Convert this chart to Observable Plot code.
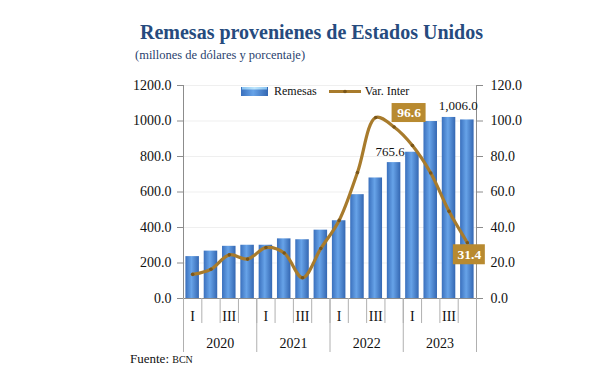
<!DOCTYPE html>
<html>
<head>
<meta charset="utf-8">
<script src="https://cdn.jsdelivr.net/npm/d3@7"></script>
<script src="https://cdn.jsdelivr.net/npm/@observablehq/plot@0.6"></script>
<style>
  html, body { margin: 0; padding: 0; background: #fff; }
  #wrap { position: relative; width: 612px; height: 385px; overflow: hidden; font-family: "Liberation Serif", "DejaVu Serif", serif; }
  #chart { position: absolute; left: 0; top: 0; }
  .abs { position: absolute; white-space: nowrap; line-height: 1; }
  #title { left: 140px; top: 22px; font-size: 20px; font-weight: bold; color: #264B7E; }
  #subtitle { left: 135px; top: 49px; font-size: 12.5px; color: #2A3F6E; }
  #source { left: 130px; top: 352px; font-size: 13px; color: #111; }
  #legend { left: 241px; top: 84px; font-size: 12px; color: #111; }
</style>
</head>
<body>
<svg width="0" height="0" style="position:absolute">
  <defs>
    <linearGradient id="barGrad" x1="0" y1="0" x2="1" y2="0">
      <stop offset="0%" stop-color="#3A70BD"/>
      <stop offset="45%" stop-color="#67A3E8"/>
      <stop offset="100%" stop-color="#3467B2"/>
    </linearGradient>
    <linearGradient id="capGrad" x1="0" y1="0" x2="1" y2="0">
      <stop offset="0%" stop-color="#86C2F0"/>
      <stop offset="50%" stop-color="#BFE6FB"/>
      <stop offset="100%" stop-color="#86C2F0"/>
    </linearGradient>
  </defs>
</svg>
<div id="wrap">
  <div id="chart"></div>
  <div id="title" class="abs">Remesas provenienes de Estados Unidos</div>
  <div id="subtitle" class="abs">(millones de dólares y porcentaje)</div>
  <div id="legend" class="abs"></div>
  <div id="source" class="abs">Fuente: <span style="font-size:10px">BCN</span></div>
</div>
<script>
// ---- Data ----
const years = ["2020", "2021", "2022", "2023"];
const quarters = ["I", "II", "III", "IV"];
const quarterLabels = ["I", "", "III", ""];
const remesas = [236, 267, 294, 300, 300, 336, 331, 385, 438, 585, 679, 765.6, 824, 997, 1020, 1006.0];
const varInter = [13.6, 16.5, 24.6, 22.2, 28.7, 25.6, 11.7, 28.2, 44.0, 71.0, 102.0, 96.6, 86.2, 70.7, 49.1, 31.4];
const leftTicks = [0, 200, 400, 600, 800, 1000, 1200];
const barLabels = [765.6, 1006.0];
const boxLabels = [96.6, 31.4];
const seriesNames = ["Remesas", "Var. Inter"];

const data = remesas.map((v, i) => ({
  i, remesas: v, varInter: varInter[i],
  year: years[Math.floor(i / 4)], q: quarters[i % 4]
}));

const gold = "#A87B2C";
const boxGold = "#B88A30";
const fmt1 = d3.format(",.1f");
const k = 10; // right axis (0-120) mapped to left scale (0-1200)

const plot = Plot.plot({
  width: 612,
  height: 385,
  marginTop: 85,
  marginBottom: 87,
  marginLeft: 183,
  marginRight: 136,
  x: {domain: [0, quarters.length * years.length]},
  y: {domain: [0, 1200]},
  style: {fontFamily: '"Liberation Serif", "DejaVu Serif", serif', fontSize: "14px", color: "#111", background: "transparent"},
  marks: [
    Plot.ruleY(leftTicks.slice(1), {stroke: "#efefef"}),
    Plot.rect(data, {x1: d => d.i, x2: d => d.i + 1, y1: 0, y2: "remesas", insetLeft: 2.4, insetRight: 2.4, fill: "url(#barGrad)"}),
    Plot.ruleY(data, {y: "remesas", x1: d => d.i, x2: d => d.i + 1, insetLeft: 3.2, insetRight: 3.2, stroke: "url(#capGrad)", strokeWidth: 4, dy: 2.5}),
    // axis lines
    Plot.ruleX([0], {stroke: "#8c8c8c"}),
    Plot.ruleX([16], {stroke: "#8c8c8c"}),
    Plot.ruleY([0], {stroke: "#8c8c8c"}),
    Plot.axisY({anchor: "left", label: null, ticks: leftTicks, tickFormat: d => d.toFixed(1), tickSize: 6, tickPadding: 6, stroke: "#8c8c8c", fill: "#111"}),
    Plot.axisY({anchor: "right", label: null, ticks: leftTicks, tickFormat: d => (d / k).toFixed(1), tickSize: 6, tickPadding: 8, stroke: "#8c8c8c", fill: "#111"}),
    Plot.axisX({label: null, ticks: d3.range(17), tickSize: 25, tickFormat: () => "", stroke: "#b0b0b0"}),
    Plot.axisX({label: null, ticks: d3.range(0, 17, 4), tickSize: 54, tickFormat: () => "", stroke: "#b0b0b0"}),
    Plot.axisX({label: null, ticks: d3.range(16).map(i => i + 0.5), tickSize: 0, tickPadding: 13, tickFormat: d => quarterLabels[Math.floor(d) % 4], fill: "#111"}),
    Plot.axisX({label: null, ticks: years.map((y, j) => j * 4 + 2), tickSize: 0, tickPadding: 40, tickFormat: d => years[Math.floor(d / 4)], fill: "#111"}),
    // line
    Plot.line(data, {x: d => d.i + 0.5, y: d => d.varInter * k, curve: "catmull-rom", stroke: gold, strokeWidth: 3.2}),
    Plot.dot(data, {x: d => d.i + 0.5, y: d => d.varInter * k, r: 1.8, fill: "#7A561A"}),
    // bar labels
    Plot.text(data.filter(d => d.remesas === barLabels[0]), {x: d => d.i + 0.5, y: "remesas", text: d => fmt1(d.remesas), dy: -11, dx: -4, fontSize: 13, fill: "#111"}),
    Plot.text(data.filter(d => d.remesas === barLabels[1]), {x: d => d.i + 0.5, y: "remesas", text: d => fmt1(d.remesas), dy: -14, dx: -9, fontSize: 13, fill: "#111"}),
    // boxed line labels
    Plot.rect(data.filter(d => d.varInter === boxLabels[0]), {x1: d => d.i + 0.5, x2: d => d.i + 0.5, y1: d => d.varInter * k, y2: d => d.varInter * k, insetLeft: -17, insetRight: -17, insetTop: -9.5, insetBottom: -9.5, dx: 15, dy: -14, fill: boxGold}),
    Plot.text(data.filter(d => d.varInter === boxLabels[0]), {x: d => d.i + 0.5, y: d => d.varInter * k, text: d => d.varInter.toFixed(1), dx: 15, dy: -14, fill: "#fff", fontWeight: "bold", fontSize: 13.5}),
    Plot.rect(data.filter(d => d.varInter === boxLabels[1]), {x1: d => d.i + 0.5, x2: d => d.i + 0.5, y1: d => d.varInter * k, y2: d => d.varInter * k, insetLeft: -16, insetRight: -16, insetTop: -10, insetBottom: -10, dx: 2, dy: 12, fill: boxGold}),
    Plot.text(data.filter(d => d.varInter === boxLabels[1]), {x: d => d.i + 0.5, y: d => d.varInter * k, text: d => d.varInter.toFixed(1), dx: 2, dy: 12, fill: "#fff", fontWeight: "bold", fontSize: 13.5})
  ]
});
document.getElementById("chart").appendChild(plot);

// legend
document.getElementById("legend").innerHTML =
  `<svg width="27" height="9" style="vertical-align:middle"><rect x="0" y="0" width="27" height="9" fill="url(#barGrad)"/><rect x="1" y="0" width="25" height="2.5" fill="url(#capGrad)"/></svg>` +
  `<span style="margin-left:6px;vertical-align:middle">${seriesNames[0]}</span>` +
  `<svg width="32" height="9" style="vertical-align:middle;margin-left:12px"><line x1="0" y1="4.5" x2="32" y2="4.5" stroke="${gold}" stroke-width="3"/><circle cx="16" cy="4.5" r="1.8" fill="#7A561A"/></svg>` +
  `<span style="margin-left:4px;vertical-align:middle">${seriesNames[1]}</span>`;
</script>
</body>
</html>
